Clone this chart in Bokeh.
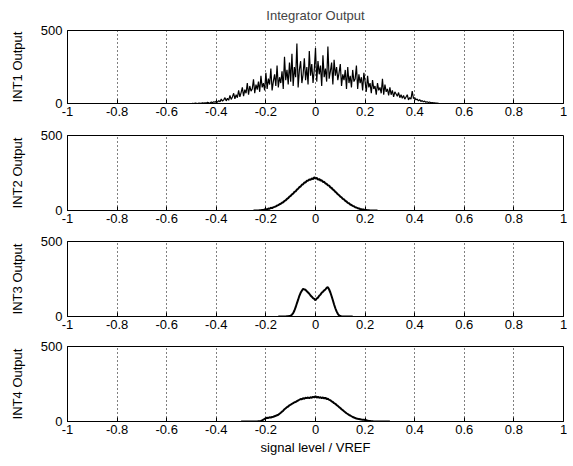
import numpy as np
from bokeh.plotting import figure
from bokeh.layouts import column
from bokeh.models import FixedTicker, Range1d
from bokeh.embed import file_html
from bokeh.resources import INLINE

# ---------------- data ----------------
title_text = "Integrator Output"
x_label = "signal level / VREF"
panel_names = ["INT1 Output", "INT2 Output", "INT3 Output", "INT4 Output"]

x_ticks = [-1, -0.8, -0.6, -0.4, -0.2, 0, 0.2, 0.4, 0.6, 0.8, 1]
x_tick_labels = ["-1", "-0.8", "-0.6", "-0.4", "-0.2", "0", "0.2", "0.4", "0.6", "0.8", "1"]
y_ticks = [0, 500]
y_tick_labels = ["0", "500"]

# INT1: bins from -0.5 to 0.5 (step 0.005)
int1_x = np.round(np.arange(-0.5, 0.5001, 0.005), 3)
int1_y = [
    0, 1, 0, 2, 1, 0, 3, 1, 2, 5, 2, 4, 3, 8, 5, 3, 10, 6, 12, 8,
    15, 9, 20, 12, 30, 16, 25, 40, 18, 35, 22, 55, 28, 45, 70, 32, 60, 40, 90, 45,
    75, 110, 50, 95, 70, 140, 60, 120, 85, 100, 165, 70, 130, 95, 150, 80, 190, 110, 140, 90,
    210, 100, 170, 130, 240, 90, 150, 200, 120, 260, 110, 180, 140, 220, 100, 320, 160, 230, 130, 280,
    150, 340, 120, 250, 180, 410, 110, 230, 290, 140, 200, 310, 160, 250, 130, 360, 190, 270, 140, 230,
    380, 150, 290, 200, 260, 120, 330, 180, 240, 150, 390, 170, 220, 280, 130, 300, 190, 250, 160, 210,
    270, 120, 200, 160, 230, 100, 250, 140, 190, 110, 230, 150, 170, 260, 100, 200, 140, 180, 90, 210,
    150, 80, 190, 110, 140, 70, 160, 100, 120, 60, 140, 90, 110, 70, 170, 60, 130, 80, 100, 55,
    110, 60, 90, 45, 80, 65, 50, 75, 40, 60, 35, 55, 30, 45, 60, 25, 40, 30, 85, 35,
    40, 25, 30, 18, 26, 14, 20, 12, 16, 9, 12, 7, 10, 5, 7, 4, 4, 2, 2, 1, 0,
]

# INT2: bins from -0.25 to 0.25 (step 0.005)
int2_x = np.round(np.arange(-0.25, 0.2501, 0.005), 3)
int2_y = [
    0, 0, 0, 0, 0, 1, 2, 4, 3, 7,
    9, 8, 13, 12, 18, 16, 22, 24, 28, 33,
    36, 42, 45, 52, 55, 64, 68, 77, 82, 93,
    97, 108, 112, 124, 128, 139, 145, 156, 160, 172,
    175, 186, 187, 198, 199, 207, 204, 214, 208, 222,
    212,
    218, 205, 210, 200, 202, 190, 192, 180, 178, 168,
    166, 154, 150, 140, 134, 124, 118, 108, 102, 92,
    88, 78, 74, 64, 60, 51, 48, 40, 37, 31,
    28, 22, 20, 15, 14, 10, 9, 6, 6, 4,
    3, 2, 1, 0, 0, 0, 0, 0, 0, 0,
]

# INT3: bins from -0.15 to 0.15 (step 0.005)
int3_x = np.round(np.arange(-0.15, 0.1501, 0.005), 3)
int3_y = [
    0, 0, 0, 0, 0, 0, 0, 1, 2, 4,
    6, 12, 22, 40, 62, 88, 112, 138, 158, 172,
    185, 180, 178, 168, 160, 152, 140, 132, 122, 118,
    108,
    120, 126, 138, 146, 158, 165, 174, 180, 192, 195,
    180, 160, 135, 108, 80, 55, 34, 18, 8, 3,
    0, 0, 0, 0, 0, 0, 0, 0, 0, 0,
]

# INT4: bins from -0.3 to 0.3 (step 0.005)
int4_x = np.round(np.arange(-0.3, 0.3001, 0.005), 3)
int4_y = [
    0, 0, 0, 0, 0, 0, 0, 0, 0, 0, 0, 0, 0, 0,
    1, 2, 4, 8, 12, 18, 22, 25, 24, 28, 27, 30, 32, 35, 38, 42, 45,
    52, 58, 66, 72, 82, 88, 96, 100, 108, 112, 118, 122, 128, 130, 136,
    140, 145, 150, 148, 155, 152, 158, 156, 160, 155, 162, 158, 165, 160,
    168,
    160, 164, 158, 162, 156, 160, 154, 158, 150, 152, 144, 142, 134, 130, 122,
    118, 110, 104, 96, 90, 82, 76, 68, 62, 55, 50, 44, 40, 35, 30,
    27, 23, 20, 18, 16, 15, 13, 12, 11, 10, 8, 6, 4, 3, 2, 1,
    0, 0, 0, 0, 0, 0, 0, 0, 0, 0, 0, 0, 0, 0,
]

series = [(int1_x, int1_y, 1.2), (int2_x, int2_y, 2), (int3_x, int3_y, 2), (int4_x, int4_y, 2)]

# ---------------- layout ----------------
FONT = "Liberation Sans"
heights = [120, 105, 106, 126]
tops = [30, 15, 16, 15]
bottoms = [17, 15, 15, 35]
W = 567

x_over = {t: l for t, l in zip(x_ticks, x_tick_labels)}
y_over = {t: l for t, l in zip(y_ticks, y_tick_labels)}

figs = []
for i, (name, (xs, ys, lw)) in enumerate(zip(panel_names, series)):
    n = min(len(xs), len(ys))
    p = figure(width=W, height=heights[i], output_backend="svg", toolbar_location=None,
               x_range=Range1d(-1, 1), y_range=Range1d(0, 500),
               min_border_left=67, min_border_right=4,
               min_border_top=tops[i], min_border_bottom=bottoms[i])
    p.line(list(xs[:n]), list(ys[:n]), line_color="black", line_width=lw)

    p.outline_line_color = "black"
    p.outline_line_width = 1
    p.background_fill_color = "white"
    p.border_fill_color = "white"

    p.xaxis.ticker = FixedTicker(ticks=x_ticks)
    p.xaxis.major_label_overrides = x_over
    p.yaxis.ticker = FixedTicker(ticks=y_ticks)
    p.yaxis.major_label_overrides = y_over
    for ax in (p.xaxis, p.yaxis):
        ax.major_tick_in = 4
        ax.major_tick_out = 0
        ax.minor_tick_in = 0
        ax.minor_tick_out = 0
        ax.axis_line_color = "black"
        ax.major_tick_line_color = "black"
        ax.major_label_text_font = FONT
        ax.major_label_text_font_size = "13px"
        ax.major_label_text_color = "black"
        ax.major_label_standoff = 3
        ax.axis_label_text_font = FONT
        ax.axis_label_text_font_size = "13px"
        ax.axis_label_text_font_style = "normal"
        ax.axis_label_text_color = "black"
    p.yaxis.axis_label = name
    p.yaxis.axis_label_standoff = 13
    p.yaxis.major_label_standoff = 5

    p.xgrid.ticker = FixedTicker(ticks=x_ticks)
    p.xgrid.grid_line_color = "black"
    p.xgrid.grid_line_dash = "1 3"
    p.xgrid.grid_line_width = 1
    p.ygrid.grid_line_color = None

    if i == 0:
        p.title.text = title_text
        p.title.align = "center"
        p.title.text_font = FONT
        p.title.text_font_size = "13px"
        p.title.text_font_style = "normal"
        p.title.vertical_align = "top"
        p.title.standoff = 12
    if i == 3:
        p.xaxis.axis_label = x_label
        p.xaxis.axis_label_standoff = 3
    figs.append(p)

layout = column(*figs, spacing=0)
open("out.html", "w").write(file_html(layout, INLINE))
